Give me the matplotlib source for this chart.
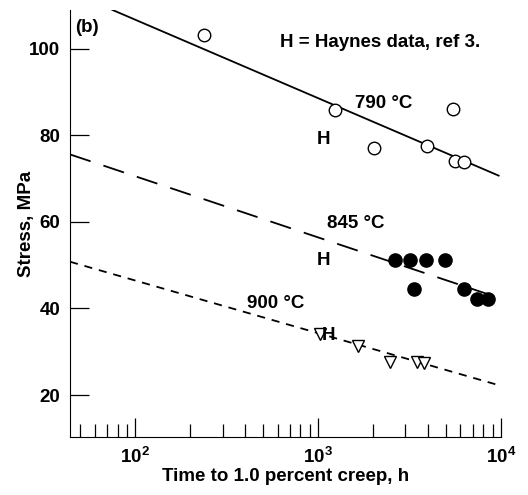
import matplotlib
matplotlib.use("Agg")
import matplotlib.pyplot as plt
import numpy as np

plt.rcParams['font.family'] = ['Liberation Sans', 'DejaVu Sans']
plt.rcParams['font.weight'] = 'bold'
plt.rcParams['axes.labelweight'] = 'bold'
plt.rcParams['mathtext.fontset'] = 'custom'
plt.rcParams['mathtext.rm'] = 'Liberation Sans:bold'
plt.rcParams['mathtext.it'] = 'Liberation Sans:bold'

# 790 C data (open circles)
t790 = [237, 1243, 2014, 3945, 5470, 5630, 6300]
s790 = [103.1, 85.8, 77.1, 77.5, 86.1, 74.0, 73.8]
# 845 C data (filled circles)
t845 = [2640, 3190, 3900, 4950, 3330, 6310, 7400, 8500]
s845 = [51.3, 51.1, 51.3, 51.3, 44.4, 44.6, 42.3, 42.3]
# 900 C data (open triangles)
t900 = [1020, 1655, 2485, 3475, 3810]
s900 = [34.2, 31.3, 27.6, 27.6, 27.5]

# fitted lines (end points)
fit790_t = [75, 9700]
fit790_s = [109, 70.7]
fit845_t = [44, 9500]
fit845_s = [75.6, 42.6]
fit900_t = [44, 9300]
fit900_s = [50.8, 22.5]

FS = 13.5

fig = plt.figure(figsize=(5.28, 4.95), dpi=100)
ax = fig.add_axes([0.1326, 0.1172, 0.949 - 0.1326, 0.98 - 0.1172])

ax.plot(fit790_t, fit790_s, color='black', lw=1.3)
ax.plot(fit845_t, fit845_s, color='black', lw=1.3, dashes=(12, 7.5))
ax.plot(fit900_t, fit900_s, color='black', lw=1.3, dashes=(4.5, 3.8))

ax.plot(t790, s790, 'o', ms=9, mfc='white', mec='black', mew=1.0, ls='none')
ax.plot(t845, s845, 'o', ms=9.5, mfc='black', mec='black', ls='none')
ax.plot(t900, s900, 'v', ms=9, mfc='white', mec='black', mew=1.0, ls='none')

ax.set_xscale('log')
ax.set_xlim(44, 10000)
ax.set_ylim(10.3, 109)
ax.set_yticks([20, 40, 60, 80, 100])
ax.set_xticks([100, 1000, 10000])
ax.set_xticklabels(['10$^2$', '10$^3$', '10$^4$'])

for side in ['top', 'right']:
    ax.spines[side].set_visible(False)
ax.tick_params(axis='y', which='major', direction='in', length=14, width=0.9,
               labelsize=FS, pad=7)
ax.tick_params(axis='x', which='major', direction='in', length=13.5, width=0.9,
               labelsize=FS, pad=7)
ax.tick_params(axis='x', which='minor', direction='in', length=9.5, width=0.9)

ax.set_xlabel('Time to 1.0 percent creep, h', fontsize=FS, labelpad=1)
ax.set_ylabel('Stress, MPa', fontsize=FS)
ax.yaxis.set_label_coords(-0.081, 0.5)

ax.text(47.2, 104, '(b)', fontsize=FS)
ax.text(615, 100.4, 'H = Haynes data, ref 3.', fontsize=FS)
ax.text(1600, 86.4, '790 \u00b0C', fontsize=FS)
ax.text(988, 77.9, 'H', fontsize=FS)
ax.text(1120, 58.7, '845 \u00b0C', fontsize=FS)
ax.text(980, 50.0, 'H', fontsize=FS)
ax.text(406, 40.2, '900 \u00b0C', fontsize=FS)
ax.text(1042, 32.7, 'H', fontsize=FS)

fig.savefig('out.png', dpi=100)
